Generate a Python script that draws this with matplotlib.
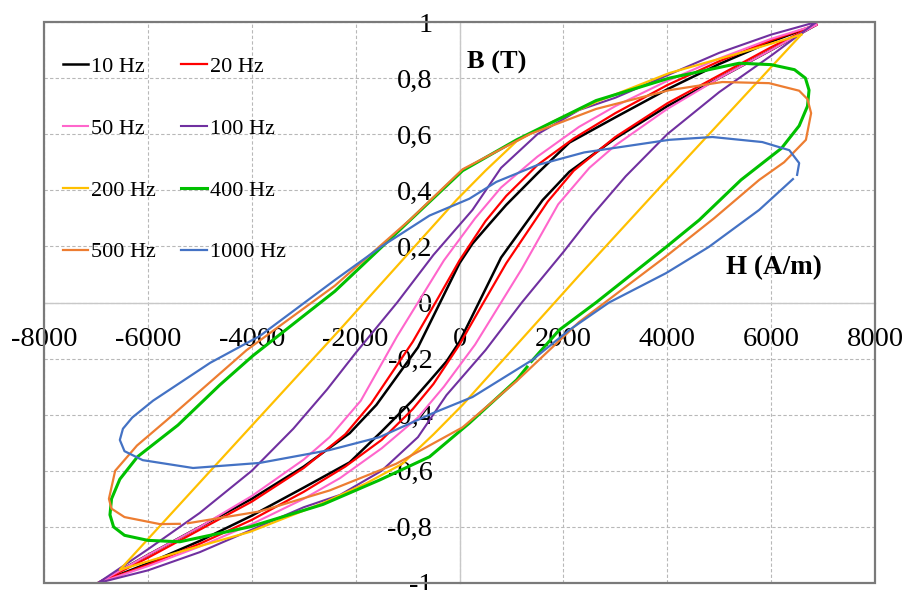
import matplotlib
matplotlib.use("Agg")
import matplotlib.pyplot as plt
from matplotlib.patches import Rectangle

# ---------------- data ----------------
x_ticks = [-8000, -6000, -4000, -2000, 0, 2000, 4000, 6000, 8000]
x_tick_labels = ["-8000", "-6000", "-4000", "-2000", "0", "2000", "4000", "6000", "8000"]
y_ticks = [-1, -0.8, -0.6, -0.4, -0.2, 0, 0.2, 0.4, 0.6, 0.8, 1]
y_tick_labels = ["-1", "-0,8", "-0,6", "-0,4", "-0,2", "0", "0,2", "0,4", "0,6", "0,8", "1"]

labels = ["10 Hz", "20 Hz", "50 Hz", "100 Hz", "200 Hz", "400 Hz", "500 Hz", "1000 Hz"]
colors = ["#000000", "#ff0000", "#ff66cc", "#7030a0", "#ffc000", "#00c000", "#ed7d31", "#4472c4"]

# 10 Hz
h10_up = [6870, 6000, 5000, 4000, 3000, 2115, 1500, 900, 577, 250, 0, -320, -800, -1600, -2115, -3000, -4000, -5000, -6000, -6960]
b10_up = [0.99, 0.93, 0.85, 0.76, 0.66, 0.57, 0.46, 0.348, 0.28, 0.21, 0.14, 0.02, -0.16, -0.365, -0.466, -0.585, -0.70, -0.80, -0.90, -1.0]
h10_lo = [-6960, -6000, -5000, -4000, -3000, -2115, -1500, -900, -577, -250, 0, 320, 800, 1600, 2115, 3000, 4000, 5000, 6000, 6870]
b10_lo = [-1.0, -0.93, -0.85, -0.76, -0.66, -0.57, -0.46, -0.348, -0.28, -0.21, -0.14, -0.02, 0.16, 0.365, 0.466, 0.585, 0.70, 0.80, 0.90, 0.99]
# 20 Hz
h20_up = [6870, 6000, 5000, 4000, 3000, 2200, 1500, 900, 500, 0, -400, -900, -1700, -2200, -3000, -4000, -5000, -6000, -6960]
b20_up = [0.99, 0.935, 0.86, 0.775, 0.675, 0.585, 0.49, 0.38, 0.29, 0.15, 0.02, -0.14, -0.36, -0.47, -0.59, -0.71, -0.81, -0.91, -1.0]
h20_lo = [-6960, -6000, -5000, -4000, -3000, -2200, -1500, -900, -500, 0, 400, 900, 1700, 2200, 3000, 4000, 5000, 6000, 6870]
b20_lo = [-1.0, -0.935, -0.86, -0.775, -0.675, -0.585, -0.49, -0.38, -0.29, -0.15, -0.02, 0.14, 0.36, 0.47, 0.59, 0.71, 0.81, 0.91, 0.99]
# 50 Hz
h50_up = [6870, 6000, 5000, 4000, 3000, 2300, 1500, 800, 300, -300, -700, -1200, -1900, -2500, -3000, -4000, -5000, -6000, -6960]
b50_up = [0.99, 0.94, 0.87, 0.79, 0.70, 0.626, 0.52, 0.41, 0.30, 0.15, 0.03, -0.12, -0.35, -0.48, -0.56, -0.69, -0.80, -0.90, -1.0]
h50_lo = [-6960, -6000, -5000, -4000, -3000, -2300, -1500, -800, -300, 300, 700, 1200, 1900, 2500, 3000, 4000, 5000, 6000, 6870]
b50_lo = [-1.0, -0.94, -0.87, -0.79, -0.70, -0.626, -0.52, -0.41, -0.30, -0.15, -0.03, 0.12, 0.35, 0.48, 0.56, 0.69, 0.80, 0.90, 0.99]
# 100 Hz
h100_up = [6870, 6000, 5000, 4000, 3000, 2300, 1500, 800, 250, -500, -1200, -2000, -2550, -3200, -4000, -5000, -6000, -6960]
b100_up = [1.0, 0.955, 0.89, 0.81, 0.73, 0.686, 0.60, 0.48, 0.33, 0.17, 0.0, -0.18, -0.31, -0.45, -0.60, -0.75, -0.88, -1.0]
h100_lo = [-6960, -6000, -5000, -4000, -3000, -2300, -1500, -800, -250, 500, 1200, 2000, 2550, 3200, 4000, 5000, 6000, 6870]
b100_lo = [-1.0, -0.955, -0.89, -0.81, -0.73, -0.686, -0.60, -0.48, -0.33, -0.17, 0.0, 0.18, 0.31, 0.45, 0.60, 0.75, 0.88, 1.0]
# 200 Hz
h200_up = [6580, 5500, 4040, 2630, 1800, 1100, 500, -60, -2310, -3900, -6540]
b200_up = [0.955, 0.895, 0.818, 0.715, 0.645, 0.575, 0.47, 0.365, -0.098, -0.419, -0.953]
h200_lo = [-6540, -5500, -4040, -2630, -1800, -1100, -500, 60, 2310, 3900, 6580]
b200_lo = [-0.953, -0.895, -0.818, -0.715, -0.645, -0.575, -0.47, -0.365, 0.098, 0.419, 0.955]
# 400 Hz (closed loop, small break near the start)
h400 = [1385, 1920, 2630, 3980, 4615, 5420, 6200, 6540, 6700, 6730, 6660, 6450, 6000, 5385, 4040, 2630, 1100, 60,
        -1000, -2400, -3980, -4615, -5420, -6200, -6540, -6700, -6730, -6660, -6450, -6000, -5385, -4040, -2630,
        -1540, -577, 190, 1100, 1300]
b400 = [-0.21, -0.098, 0.0, 0.198, 0.294, 0.437, 0.55, 0.63, 0.70, 0.757, 0.80, 0.83, 0.848, 0.853, 0.80, 0.72, 0.58, 0.47,
        0.285, 0.04, -0.19, -0.294, -0.437, -0.55, -0.63, -0.70, -0.757, -0.80, -0.83, -0.848, -0.853, -0.80, -0.72,
        -0.633, -0.55, -0.43, -0.276, -0.23]
# 500 Hz (closed loop with small gap at the bottom)
h500 = [-5230, -3850, -2500, -1220, 60, 1100, 2300, 3980, 4900, 5770, 6250, 6670, 6770, 6700, 6540, 5960, 5060, 4040,
        2630, 1350, 60, -960, -2400, -4100, -5640, -6210, -6630, -6750, -6700, -6450, -5770, -5385]
b500 = [-0.787, -0.745, -0.67, -0.575, -0.445, -0.28, -0.07, 0.165, 0.30, 0.437, 0.50, 0.58, 0.675, 0.725, 0.755, 0.782, 0.786, 0.757,
        0.69, 0.60, 0.475, 0.294, 0.06, -0.17, -0.42, -0.51, -0.60, -0.70, -0.735, -0.765, -0.79, -0.789]
# 1000 Hz (open at the right end)
h1000 = [6420, 5770, 4800, 3980, 2880, 2115, 1400, 250, -520, -1540, -2500, -3850, -5130, -6100, -6450, -6540, -6480,
         -6300, -5900, -4800, -3850, -2400, -1500, -577, 190, 710, 1500, 2400, 4040, 4870, 5830, 6350, 6540, 6500]
b1000 = [0.44, 0.33, 0.198, 0.105, 0.0, -0.098, -0.205, -0.337, -0.395, -0.48, -0.526, -0.572, -0.59, -0.562, -0.53, -0.49, -0.45,
         -0.41, -0.35, -0.215, -0.12, 0.08, 0.20, 0.31, 0.37, 0.43, 0.49, 0.535, 0.58, 0.59, 0.572, 0.543, 0.497, 0.455]

loops_h = [h10_up + h10_lo, h20_up + h20_lo, h50_up + h50_lo, h100_up + h100_lo,
           h200_up + h200_lo, h400, h500, h1000]
loops_b = [b10_up + b10_lo, b20_up + b20_lo, b50_up + b50_lo, b100_up + b100_lo,
           b200_up + b200_lo, b400, b500, b1000]
widths = [1.8, 1.6, 1.5, 1.5, 1.6, 2.2, 1.6, 1.6]

# ---------------- figure ----------------
serif = ["Liberation Serif", "DejaVu Serif"]
plt.rcParams["font.family"] = serif

fig = plt.figure(figsize=(9.07, 5.90), dpi=100)
ax = fig.add_axes([44 / 907, 7 / 590, 831 / 907, 561 / 590])
ax.set_xlim(-8000, 8000)
ax.set_ylim(-1, 1)

ax.grid(True, color="#b8b8b8", linestyle=(0, (3, 2)), linewidth=0.8)
ax.set_axisbelow(True)

for s in ["top", "right"]:
    ax.spines[s].set_visible(False)
for s in ["left", "bottom"]:
    ax.spines[s].set_position(("data", 0))
    ax.spines[s].set_color("#c8c8c8")
    ax.spines[s].set_linewidth(1.0)
ax.add_patch(Rectangle((0, 0), 1, 1, transform=ax.transAxes, fill=False,
                       edgecolor="#7a7a7a", linewidth=1.6, clip_on=False, zorder=6))

ax.set_xticks(x_ticks, x_tick_labels)
ax.set_yticks(y_ticks, y_tick_labels)
ax.tick_params(axis="both", length=0, labelsize=20.5)
ax.tick_params(axis="x", pad=18)
ax.tick_params(axis="y", pad=19.5)

handles = []
for hh, bb, c, lab, w in zip(loops_h, loops_b, colors, labels, widths):
    ln, = ax.plot(hh, bb, color=c, linewidth=w, label=lab, solid_joinstyle="round", zorder=3)
    handles.append(ln)

order = [0, 2, 4, 6, 1, 3, 5, 7]
ax.legend([handles[i] for i in order], [labels[i] for i in order], ncol=2,
          loc="upper left", bbox_to_anchor=(0.0229, 0.939), borderaxespad=0, borderpad=0,
          frameon=False, fontsize=16, handlelength=1.13, handletextpad=0.15,
          columnspacing=1.13, labelspacing=1.86)

ax.text(135, 0.857, "B (T)", fontsize=19, fontweight="bold", ha="left", va="center")
ax.text(5135, 0.125, "H (A/m)", fontsize=19.5, fontweight="bold", ha="left", va="center")

fig.savefig("out.png", dpi=100)
